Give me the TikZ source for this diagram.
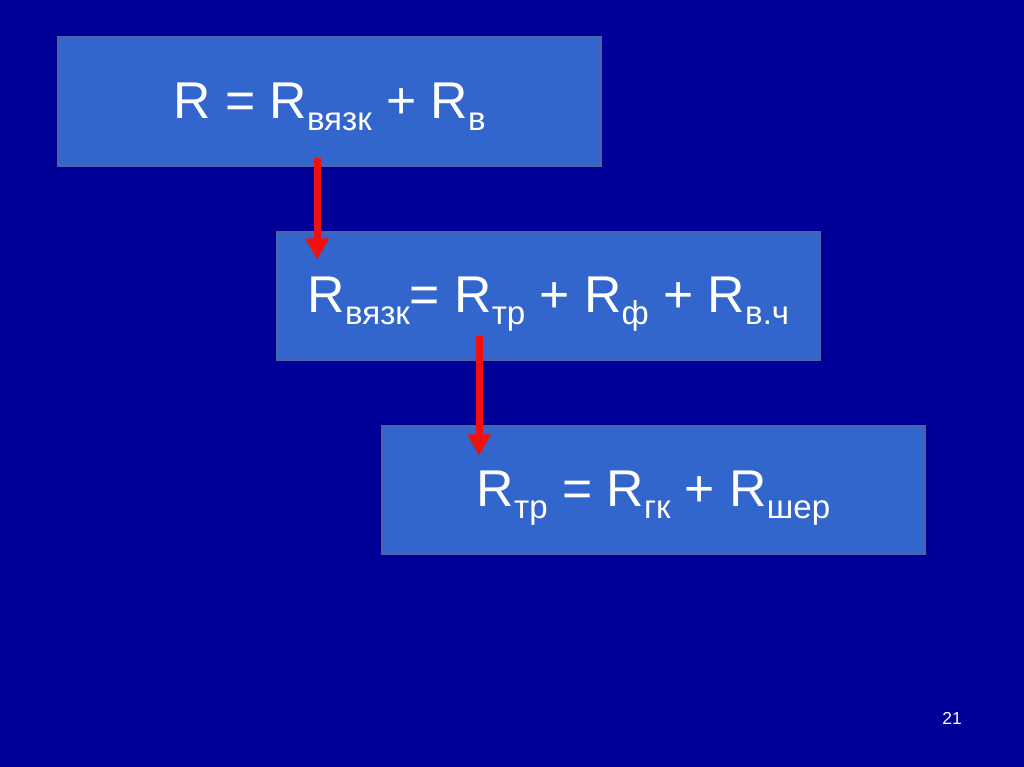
\documentclass[tikz,border=0pt]{standalone}
\usepackage{fontspec}
\setmainfont{Liberation Sans}
\usepackage{xcolor}
\usetikzlibrary{positioning, calc, arrows.meta}
\definecolor{bgblue}{HTML}{000099}
\definecolor{boxfill}{HTML}{3366CC}
\definecolor{boxedge}{HTML}{4A64A6}
\definecolor{arrred}{HTML}{F01010}
\newcommand{\lo}[1]{\raisebox{-9pt}{\fontsize{24.8}{26}\selectfont #1}}
\begin{document}
\begin{tikzpicture}[x=0.75pt, y=-0.75pt,
  every node/.style={font=\fontsize{38.8}{44}\selectfont, text=white},
  formula/.style={draw=boxedge, line width=1.5pt, fill=boxfill, minimum width=407pt, minimum height=96.5pt, text height=25pt, text depth=0pt, inner sep=0pt},
  down/.style={draw=arrred, line width=5pt, -{Triangle[width=17pt, length=16pt]}}]
  \fill[bgblue] (0,0) rectangle (1024,767);
  \node[formula] (total) at (329.5, 101.5) {R = R\lo{вязк} + R\lo{в}};
  \node[formula] (visc) at (548.5, 296) {R\lo{вязк}= R\lo{тр} + R\lo{ф} + R\lo{в.ч}};
  \node[formula] (fric) at (653.5, 490) {R\lo{тр} = R\lo{гк} + R\lo{шер}};
  \draw[down] ([shift={(260,-9)}]total.south west) -- ([shift={(41,29)}]visc.north west);
  \draw[down] ([shift={(203,-25)}]visc.south west) -- ([shift={(98,31)}]fric.north west);
  \node[font=\fontsize{13}{15}\selectfont, anchor=base] (page) at (952, 724) {21};
\end{tikzpicture}
\end{document}
